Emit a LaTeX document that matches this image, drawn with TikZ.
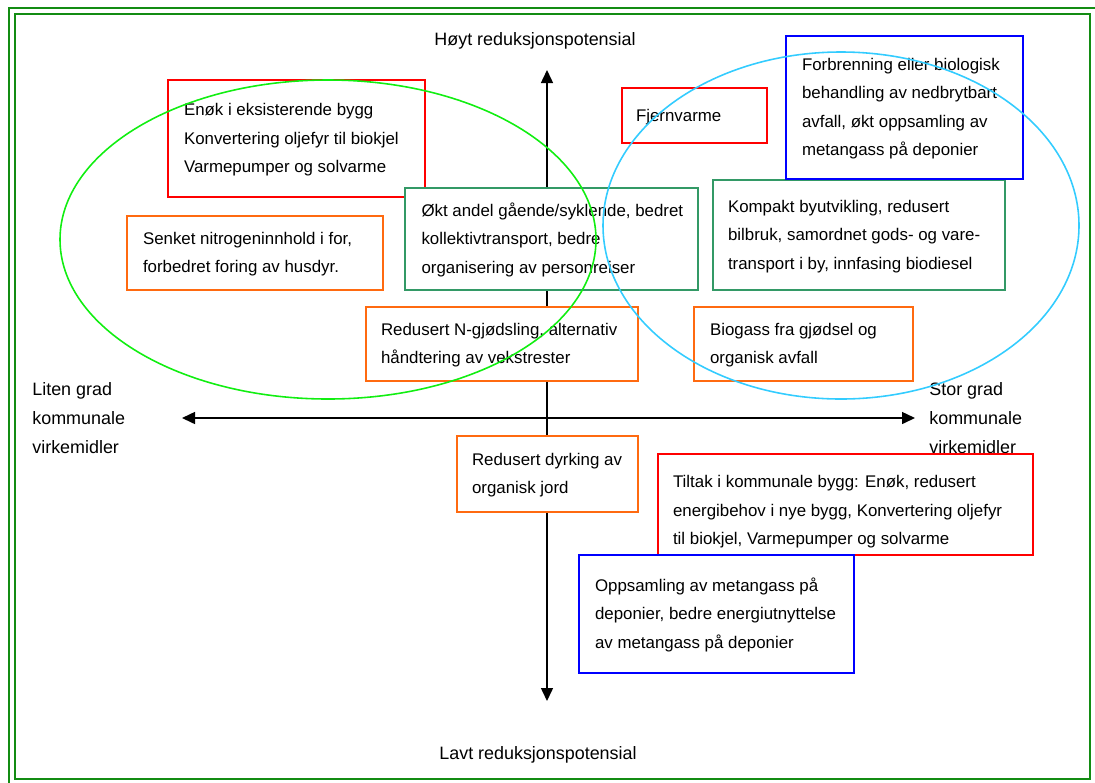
\documentclass[tikz,border=0pt]{standalone}
\usepackage{fontspec}
\setmainfont{Liberation Sans}
\usetikzlibrary{arrows.meta}

\definecolor{framegreen}{HTML}{138C13}
\definecolor{boxred}{HTML}{FF0000}
\definecolor{boxorange}{HTML}{FF6A10}
\definecolor{boxteal}{HTML}{339966}
\definecolor{boxblue}{HTML}{0000FF}
\definecolor{ringgreen}{HTML}{11EE11}
\definecolor{ringblue}{HTML}{33CCFF}

\newcommand{\boxlines}[2]{\makebox[#1][l]{\begin{tabular}{@{}l@{}}#2\end{tabular}}}

\begin{document}
\begin{tikzpicture}[x=0.02cm, y=-0.02cm,
                tbox/.style={draw, fill=white, line width=1.1pt, inner sep=0pt,
                  font=\fontsize{9.6}{16.2}\selectfont},
                axislabel/.style={align=left, inner sep=0pt, font=\fontsize{10.2}{16.4}\selectfont},
                axis/.style={line width=0.85pt, {Triangle[length=2.6mm,width=2.4mm]}-{Triangle[length=2.6mm,width=2.4mm]}},
                ring/.style={line width=0.9pt}]

  \useasboundingbox (0,0) rectangle (1095,782);
  \draw[framegreen, line width=1.2pt] (9,8) rectangle (1100,790);
  \draw[framegreen, line width=1.5pt] (15,14) rectangle (1090,779);

  \coordinate (ytop) at (547,70);
  \coordinate (ybot) at (547,701);
  \coordinate (xleft) at (182,418);
  \coordinate (xright) at (915,418);
  \draw[axis] (ybot) -- (ytop);
  \draw[axis] (xleft) -- (xright);

  \node[axislabel] (high) at (535,41) {Høyt reduksjonspotensial};
  \node[axislabel] (low) at (538,755) {Lavt reduksjonspotensial};
  \node[axislabel, anchor=west] (little) at (32,418) {Liten grad\\kommunale\\virkemidler};
  \node[axislabel, anchor=west] (much) at (929,418) {Stor grad\\kommunale\\virkemidler};

  \node[tbox, draw=boxred, minimum width=5.14cm, minimum height=2.34cm] (enok) at (296.5,138.5)
    {\boxlines{4.5cm}{Enøk i eksisterende bygg\\Konvertering oljefyr til biokjel\\Varmepumper og solvarme}};
  \node[tbox, draw=boxorange, minimum width=5.12cm, minimum height=1.48cm] (feed) at (255,253)
    {\boxlines{4.48cm}{Senket nitrogeninnhold i for,\\forbedret foring av husdyr.}};
  \node[tbox, draw=boxteal, minimum width=5.86cm, minimum height=2.04cm] (walk) at (551.5,239)
    {\boxlines{5.2cm}{Økt andel gående/syklende, bedret\\kollektivtransport, bedre\\organisering av personreiser}};
  \node[tbox, draw=boxred, minimum width=2.9cm, minimum height=1.1cm] (district) at (694.5,115.5)
    {\boxlines{2.34cm}{Fjernvarme}};
  \node[tbox, draw=boxteal, minimum width=5.84cm, minimum height=2.2cm] (compact) at (859,235)
    {\boxlines{5.24cm}{Kompakt byutvikling, redusert\\bilbruk, samordnet gods- og vare-\\transport i by, innfasing biodiesel}};
  \node[tbox, draw=boxblue, minimum width=4.74cm, minimum height=2.86cm] (burn) at (904.5,107.5)
    {\boxlines{4.1cm}{Forbrenning eller biologisk\\behandling av nedbrytbart\\avfall, økt oppsamling av\\metangass på deponier}};
  \node[tbox, draw=boxorange, minimum width=5.44cm, minimum height=1.48cm] (fert) at (502,344)
    {\boxlines{4.84cm}{Redusert N-gjødsling, alternativ\\håndtering av vekstrester}};
  \node[tbox, draw=boxorange, minimum width=4.38cm, minimum height=1.48cm] (biogas) at (803.5,344)
    {\boxlines{3.74cm}{Biogass fra gjødsel og\\organisk avfall}};
  \node[tbox, draw=boxorange, minimum width=3.62cm, minimum height=1.52cm] (soil) at (547.5,474)
    {\boxlines{3.02cm}{Redusert dyrking av\\organisk jord}};
  \node[tbox, draw=boxred, minimum width=7.5cm, minimum height=2.02cm] (municipal) at (845.5,504.5)
    {\boxlines{6.9cm}{\rule{0pt}{18.1pt}Tiltak i kommunale bygg: Enøk, redusert\\energibehov i nye bygg, Konvertering oljefyr\\til biokjel, Varmepumper og solvarme}};
  \node[tbox, draw=boxblue, minimum width=5.5cm, minimum height=2.36cm] (methane) at (716.5,614)
    {\boxlines{4.86cm}{Oppsamling av metangass på\\deponier, bedre energiutnyttelse\\av metangass på deponier}};

  \draw[ring, ringgreen] (328,239.5) ellipse [x radius=268, y radius=159.5];
  \draw[ring, ringblue] (841,225.5) ellipse [x radius=238, y radius=173.5];
\end{tikzpicture}
\end{document}
